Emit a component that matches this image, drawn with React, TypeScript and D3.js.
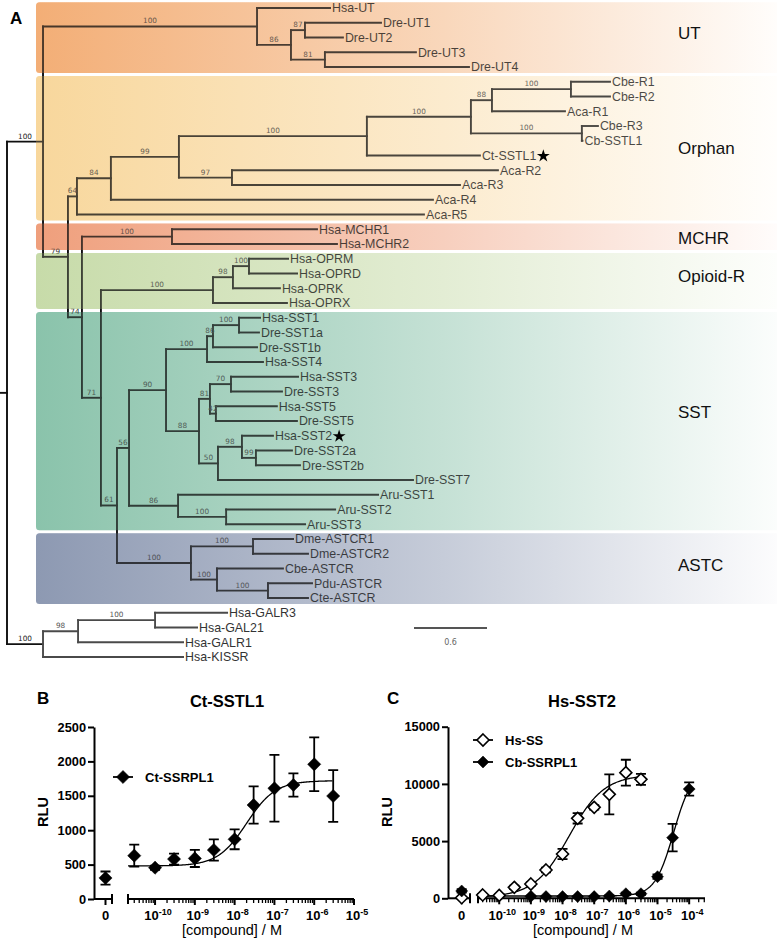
import React, { useEffect, useRef } from "react";
import * as d3 from "d3";

// ======================= PANEL A : tree data =======================
type TNode = { name?: string; bs?: number | null; len: number; children?: TNode[] };
const L = (name: string, len: number): TNode => ({ name, len });
const N = (bs: number | null, len: number, ...children: TNode[]): TNode => ({ bs, len, children });

const utClade = N(100, 1.759,
  L("Hsa-UT", 0.6),
  N(86, 0.279,
    N(87, 0.115, L("Dre-UT1", 0.625), L("Dre-UT2", 0.312)),
    N(81, 0.279, L("Dre-UT3", 0.748), L("Dre-UT4", 1.184))));

const orphanClade = N(64, 0.074,
  N(84, 0.279,
    N(99, 0.559,
      N(100, 1.545,
        N(100, 0.855,
          N(88, 0.173, N(100, 0.649, L("Cbe-R1", 0.321), L("Cbe-R2", 0.321)), L("Aca-R1", 0.6)),
          N(100, 0.912, L("Cbe-R3", 0.132), L("Cb-SSTL1", 0.005))),
        L("Ct-SSTL1", 0.929)),
      N(97, 0.436, L("Aca-R2", 2.186), L("Aca-R3", 1.874))),
    L("Aca-R4", 2.647)),
  L("Aca-R5", 2.852));

const mchrClade = N(100, 0.74, L("Hsa-MCHR1", 1.192), L("Hsa-MCHR2", 1.356));

const opioidClade = N(100, 0.921,
  N(98, 0.164, N(100, 0.132, L("Hsa-OPRM", 0.321), L("Hsa-OPRD", 0.395)), L("Hsa-OPRK", 0.386)),
  L("Hsa-OPRX", 0.608));

const sstClade = N(56, 0.099,
  N(90, 0.304,
    N(100, 0.337,
      N(86, 0.049, N(100, 0.214, L("Hsa-SST1", 0.173), L("Dre-SST1a", 0.164)), L("Dre-SST1b", 0.362)),
      L("Hsa-SST4", 0.46)),
    N(88, 0.271,
      N(81, 0.09,
        N(70, 0.173, L("Hsa-SST3", 0.551), L("Dre-SST3", 0.419)),
        N(42, 0.049, L("Hsa-SST5", 0.501), L("Dre-SST5", 0.666))),
      N(50, 0.156,
        N(98, 0.197, L("Hsa-SST2", 0.255), N(99, 0.115, L("Dre-SST2a", 0.296), L("Dre-SST2b", 0.362))),
        L("Dre-SST7", 1.603)))),
  N(86, 0.403, L("Aru-SST1", 1.644), N(100, 0.395, L("Aru-SST2", 0.896), L("Aru-SST3", 0.649))));

const astcClade = N(100, 0.608,
  N(100, 0.51, L("Dme-ASTCR1", 0.329), L("Dme-ASTCR2", 0.452)),
  N(100, 0.214, L("Cbe-ASTCR", 0.542), N(100, 0.419, L("Pdu-ASTCR", 0.362), L("Cte-ASTCR", 0.329))));

const outgroupClade = N(100, 0.296,
  N(98, 0.288, N(100, 0.633, L("Hsa-GALR3", 0.592), L("Hsa-GAL21", 0.345)), L("Hsa-GALR1", 0.863)),
  L("Hsa-KISSR", 1.151));

const treeData = N(null, 0,
  N(100, 0.296, utClade,
    N(79, 0.205, orphanClade,
      N(74, 0.115, mchrClade,
        N(71, 0.156, opioidClade,
          N(61, 0.132, sstClade, astcClade))))),
  outgroupClade);

const cladeNames = ["UT", "Orphan", "MCHR", "Opioid-R", "SST", "ASTC"];
const cladeFirstLeaf = ["Hsa-UT", "Cbe-R1", "Hsa-MCHR1", "Hsa-OPRM", "Hsa-SST1", "Dme-ASTCR1"];
const cladeLastLeaf = ["Dre-UT4", "Aca-R5", "Hsa-MCHR2", "Hsa-OPRX", "Aru-SST3", "Cte-ASTCR"];
const cladeColors = ["#f3ae76", "#f8d79c", "#ef9f7c", "#c7dba9", "#8ac3ab", "#8d99b2"];
const starredLeaves = ["Ct-SSTL1", "Hsa-SST2"];
const scaleBarLength = 0.6;

// ======================= PANEL B data =======================
const ctConc = [3e-11, 1e-10, 3e-10, 1e-9, 3e-9, 1e-8, 3e-8, 1e-7, 3e-7, 1e-6, 3e-6];
const ctMean = [630, 455, 580, 590, 712, 868, 1366, 1609, 1657, 1958, 1497];
const ctSD = [160, 30, 80, 125, 155, 145, 270, 485, 170, 390, 375];
const ctZero = [305, 95];
const ctFit = { bottom: 480, top: 1720, logEC50: -7.7, hill: 1.2 };

// ======================= PANEL C data =======================
const hsConc = [3e-11, 1e-10, 3e-10, 1e-9, 3e-9, 1e-8, 3e-8, 1e-7, 3e-7, 1e-6, 3e-6];
const hsMean = [290, 250, 960, 1250, 2475, 3870, 6990, 7950, 9090, 10980, 10400];
const hsSD = [100, 100, 150, 150, 200, 450, 450, 200, 1750, 1130, 480];
const hsZero = [50, 0];
const hsFit = { bottom: 100, top: 10800, logEC50: -7.79, hill: 0.79 };

const cbConc = [1e-9, 3e-9, 1e-8, 3e-8, 1e-7, 3e-7, 1e-6, 3e-6, 1e-5, 3e-5, 1e-4];
const cbMean = [175, 150, 150, 150, 150, 200, 400, 400, 1890, 5300, 9550];
const cbSD = [50, 50, 50, 50, 50, 50, 100, 100, 200, 1200, 580];
const cbZero = [640, 150];
const cbFit = { bottom: 200, top: 11300, logEC50: -4.49, hill: 1.47 };

const FONT = "'Liberation Sans', Arial, Helvetica, sans-serif";
const SMALLFONT = "'DejaVu Sans', Verdana, sans-serif";

function model(p: { bottom: number; top: number; logEC50: number; hill: number }, lx: number) {
  return p.bottom + (p.top - p.bottom) / (1 + Math.pow(10, (p.logEC50 - lx) * p.hill));
}

function drawTree(svg: any) {
  const x = d3.scaleLinear().domain([0, scaleBarLength]).range([7, 80]);
  const root: any = d3.hierarchy(treeData, (d: TNode) => d.children);
  root.eachBefore((n: any) => { n.cum = n.parent ? n.parent.cum + n.data.len : 0; });
  const leaves = root.leaves();
  const yLeaf = d3.scaleLinear().domain([0, leaves.length - 1]).range([8, 657]);
  leaves.forEach((l: any, i: number) => { l.yy = yLeaf(i); });
  root.eachAfter((n: any) => {
    if (n.children) n.yy = (n.children[0].yy + n.children[n.children.length - 1].yy) / 2;
  });
  const outNode = root.children[1];
  const outSet = new Set(outNode.descendants());
  const half = (yLeaf(1) - yLeaf(0)) / 2;
  const byName = new Map(leaves.map((l: any) => [l.data.name, l]));

  const boxes = cladeNames.map((name, i) => {
    const f: any = byName.get(cladeFirstLeaf[i]);
    const l: any = byName.get(cladeLastLeaf[i]);
    return { name, color: cladeColors[i], y0: f.yy - half + 1.5, y1: l.yy + half - 1.5 };
  });
  const boxX0 = 36, boxX1 = 777;
  const defs = svg.append("defs");
  boxes.forEach((b, i) => {
    const g = defs.append("linearGradient").attr("id", "cg" + i)
      .attr("gradientUnits", "userSpaceOnUse").attr("x1", boxX0).attr("x2", boxX1).attr("y1", 0).attr("y2", 0);
    g.append("stop").attr("offset", 0).attr("stop-color", b.color);
    g.append("stop").attr("offset", 0.55).attr("stop-color", d3.interpolateRgb(b.color, "#fff")(0.5));
    g.append("stop").attr("offset", 1).attr("stop-color", d3.interpolateRgb(b.color, "#fff")(0.97));
  });
  const drawBoxes = (op: number) =>
    svg.append("g").selectAll("rect").data(boxes).join("rect")
      .attr("x", boxX0).attr("y", (d: any) => d.y0).attr("width", boxX1 - boxX0 + 6)
      .attr("height", (d: any) => d.y1 - d.y0).attr("rx", 3.5)
      .attr("fill", (_: any, i: number) => `url(#cg${i})`).attr("fill-opacity", op);
  drawBoxes(1);

  const lineColor = (n: any) => (outSet.has(n) && n !== outNode ? "#4a4a4a" : "#0e0e0e");
  const lines = svg.append("g").attr("fill", "none").attr("stroke-width", 1.9).attr("stroke-linecap", "square");
  lines.append("path").attr("d", `M0,${root.yy}H${x(0)}`).attr("stroke", "#111");
  root.descendants().forEach((n: any) => {
    if (n.parent) {
      lines.append("path").attr("d", `M${x(n.parent.cum)},${n.yy}H${x(n.cum)}`)
        .attr("stroke", n === outNode ? "#111" : lineColor(n));
    }
    if (n.children) {
      lines.append("path")
        .attr("d", `M${x(n.cum)},${n.children[0].yy}V${n.children[n.children.length - 1].yy}`)
        .attr("stroke", n === outNode ? "#4a4a4a" : lineColor(n));
    }
  });

  // bootstrap values
  const bsG = svg.append("g").attr("font-family", SMALLFONT).attr("font-size", 7.3).attr("text-anchor", "middle");
  root.descendants().forEach((n: any) => {
    if (n.parent && n.data.bs != null) {
      bsG.append("text").attr("x", (x(n.parent.cum) + x(n.cum)) / 2).attr("y", n.yy - 3)
        .attr("fill", n.parent === root ? "#222" : outSet.has(n) ? "#555" : "#333")
        .text(n.data.bs);
    }
  });

  // tip labels
  const tipG = svg.append("g").attr("font-family", FONT).attr("font-size", 12.4);
  const tipText = new Map<string, any>();
  leaves.forEach((l: any) => {
    const t = tipG.append("text").attr("x", x(l.cum) + 2).attr("y", l.yy).attr("dy", "0.36em")
      .attr("fill", outSet.has(l) ? "#333" : "#0e0e0e").text(l.data.name);
    tipText.set(l.data.name, t);
  });

  // tint overlay
  drawBoxes(0.25);

  // clade labels
  const cladeDy = [-4, 0, 1, -5, -9, -3];
  svg.append("g").attr("font-family", FONT).attr("font-size", 17).attr("fill", "#111")
    .selectAll("text").data(boxes).join("text")
    .attr("x", 678).attr("y", (d: any, i: number) => (d.y0 + d.y1) / 2 + cladeDy[i]).attr("dy", "0.35em")
    .text((d: any) => d.name);

  // stars
  starredLeaves.forEach((name) => {
    const t = tipText.get(name);
    const l: any = byName.get(name);
    const w = t.node().getComputedTextLength();
    svg.append("path").attr("d", d3.symbol(d3.symbolStar, 52)())
      .attr("transform", `translate(${x(l.cum) + 2 + w + 7},${l.yy + 0.5})`).attr("fill", "#000");
  });

  svg.append("text").attr("x", 10).attr("y", 24).attr("font-family", FONT).attr("font-weight", "bold")
    .attr("font-size", 17).text("A");

  // scale bar
  const sbx = 414;
  svg.append("path").attr("d", `M${sbx},628H${sbx + x(scaleBarLength) - x(0)}`).attr("stroke", "#555").attr("stroke-width", 2);
  svg.append("text").attr("x", sbx + (x(scaleBarLength) - x(0)) / 2).attr("y", 645).attr("text-anchor", "middle")
    .attr("font-family", SMALLFONT).attr("font-size", 8).attr("fill", "#666").text(String(scaleBarLength));
}

type Series = { name: string; open: boolean; conc: number[]; mean: number[]; sd: number[]; zero: number[]; fit: any; fitEnd: number };

function drawDose(svg: any, Lo: any, series: Series[]) {
  const g = svg.append("g").attr("font-family", FONT);
  const y = d3.scaleLinear().domain([0, Lo.yMax]).range([Lo.yBottom, Lo.yTop]);
  const xl = d3.scaleLog().domain([Math.pow(10, Lo.logMin), Math.pow(10, Lo.logMax)]).range([Lo.logStart, Lo.logEnd]);

  g.append("text").attr("x", Lo.letterX).attr("y", 704).attr("font-weight", "bold").attr("font-size", 17).text(Lo.letter);
  g.append("text").attr("x", Lo.titleX).attr("y", 707).attr("text-anchor", "middle").attr("font-weight", "bold")
    .attr("font-size", 16.5).text(Lo.title);

  const ya = g.append("g").attr("transform", `translate(${Lo.axisX},0)`)
    .call(d3.axisLeft(y).tickValues(d3.range(0, Lo.yMax + 1, Lo.yStep)).tickSize(6).tickSizeOuter(0).tickPadding(2)
      .tickFormat(d3.format("d")));
  ya.attr("font-family", FONT).attr("font-size", 12.8).attr("font-weight", "bold");
  ya.selectAll("path,line").attr("stroke", "#000").attr("stroke-width", 2);
  ya.selectAll("text").attr("fill", "#000");

  g.append("text").attr("transform", `translate(${Lo.ylabX},812) rotate(-90)`).attr("text-anchor", "middle")
    .attr("dy", "0.35em").attr("font-weight", "bold").attr("font-size", 14.5).text("RLU");

  const ax = g.append("g").attr("stroke", "#000").attr("fill", "none");
  const yb = Lo.yBottom;
  ax.append("path").attr("d", `M${Lo.axisX},${yb}H${Lo.zeroEnd}`).attr("stroke-width", 2);
  ax.append("path").attr("d", `M${Lo.zeroX},${yb}v6`).attr("stroke-width", 2);
  ax.append("path").attr("d", `M${Lo.zeroEnd},${yb - 5}v10`).attr("stroke-width", 2);
  ax.append("path").attr("d", `M${Lo.logStart},${yb - 5}v10`).attr("stroke-width", 2);
  ax.append("path").attr("d", `M${Lo.logStart},${yb}H${Lo.logEnd}`).attr("stroke-width", 2);
  for (let d = Math.floor(Lo.logMin); d <= Math.ceil(Lo.logMax); d++) {
    for (let m = 1; m <= 9; m++) {
      const lv = d + Math.log10(m);
      if (lv < Lo.logMin - 1e-9 || lv > Lo.logMax + 1e-9) continue;
      const px = xl(Math.pow(10, lv));
      ax.append("path").attr("d", `M${px},${yb}v${m === 1 ? 6 : 4}`).attr("stroke-width", m === 1 ? 2 : 1.3);
    }
  }
  const tl = g.append("g").attr("font-weight", "bold").attr("font-size", 13).attr("text-anchor", "middle");
  tl.append("text").attr("x", Lo.zeroX).attr("y", 920).text("0");
  Lo.decades.forEach((d: number) => {
    const t = tl.append("text").attr("x", xl(Math.pow(10, d)) + 3).attr("y", 920);
    t.append("tspan").text("10");
    t.append("tspan").attr("dy", -5.5).attr("font-size", 9).text(String(d));
  });
  g.append("text").attr("x", Lo.xtitleX).attr("y", 935).attr("text-anchor", "middle").attr("font-size", 14.5)
    .text("[compound] / M");

  const diamond = (cx: number, cy: number, r: number) => `M${cx},${cy - r}L${cx + r},${cy}L${cx},${cy + r}L${cx - r},${cy}Z`;

  series.forEach((s) => {
    const lx = d3.range(Lo.logMin, s.fitEnd + 0.0001, 0.02);
    g.append("path").attr("d", d3.line()(lx.map((v) => [xl(Math.pow(10, v)), y(model(s.fit, v))]) as any))
      .attr("fill", "none").attr("stroke", "#000").attr("stroke-width", 1.3);
  });
  series.forEach((s) => {
    const pts = [{ px: Lo.zeroX, m: s.zero[0], sd: s.zero[1] }].concat(
      s.conc.map((c, i) => ({ px: xl(c), m: s.mean[i], sd: s.sd[i] })));
    const eb = g.append("g").attr("stroke", "#000").attr("stroke-width", 1.8).attr("fill", "none");
    pts.forEach((p) => {
      if (p.sd > 0) {
        const y1 = y(p.m + p.sd), y2 = y(Math.max(0, p.m - p.sd));
        eb.append("path").attr("d", `M${p.px},${y1}V${y2}M${p.px - 5},${y1}H${p.px + 5}M${p.px - 5},${y2}H${p.px + 5}`);
      }
    });
    pts.forEach((p) => {
      g.append("path").attr("d", diamond(p.px, y(p.m), Lo.r))
        .attr("fill", s.open ? "#fff" : "#000").attr("stroke", "#000").attr("stroke-width", s.open ? 1.6 : 0.5);
    });
  });

  series.forEach((s, i) => {
    const ly = Lo.legendY + i * Lo.legendDy;
    g.append("path").attr("d", `M${Lo.legendX},${ly}H${Lo.legendX + 20}`).attr("stroke", "#000").attr("stroke-width", 1.8);
    g.append("path").attr("d", diamond(Lo.legendX + 10, ly, Lo.r))
      .attr("fill", s.open ? "#fff" : "#000").attr("stroke", "#000").attr("stroke-width", s.open ? 1.6 : 0.5);
    g.append("text").attr("x", Lo.legendX + 32).attr("y", ly).attr("dy", "0.36em").attr("font-weight", "bold")
      .attr("font-size", 13).text(s.name);
  });
}

const panelB = {
  letter: "B", letterX: 37, title: "Ct-SSTL1", titleX: 227, axisX: 94, zeroX: 105.5, zeroEnd: 112,
  logStart: 128, logEnd: 354, logMin: -10.68, logMax: -5, decades: [-10, -9, -8, -7, -6, -5],
  yBottom: 899, yTop: 727, yMax: 2500, yStep: 500, ylabX: 43, xtitleX: 232, legendX: 113, legendY: 777,
  legendDy: 22, r: 6.6,
};
const panelC = {
  letter: "C", letterX: 387, title: "Hs-SST2", titleX: 582, axisX: 448, zeroX: 461.7, zeroEnd: 470,
  logStart: 478, logEnd: 705, logMin: -10.67, logMax: -3.5, decades: [-10, -9, -8, -7, -6, -5, -4],
  yBottom: 898.3, yTop: 726.7, yMax: 15000, yStep: 5000, ylabX: 387, xtitleX: 583, legendX: 473, legendY: 740,
  legendDy: 22, r: 6,
};

export default function App() {
  const ref = useRef<SVGSVGElement>(null);
  useEffect(() => {
    const svg = d3.select(ref.current);
    svg.selectAll("*").remove();
    drawTree(svg);
    drawDose(svg, panelB, [
      { name: "Ct-SSRPL1", open: false, conc: ctConc, mean: ctMean, sd: ctSD, zero: ctZero, fit: ctFit, fitEnd: Math.log10(3e-6) },
    ]);
    drawDose(svg, panelC, [
      { name: "Hs-SS", open: true, conc: hsConc, mean: hsMean, sd: hsSD, zero: hsZero, fit: hsFit, fitEnd: Math.log10(3e-6) },
      { name: "Cb-SSRPL1", open: false, conc: cbConc, mean: cbMean, sd: cbSD, zero: cbZero, fit: cbFit, fitEnd: -4 },
    ]);
  }, []);
  return (
    <div style={{ position: "absolute", left: 0, top: 0 }}>
      <style>{"body{margin:0}"}</style>
      <svg ref={ref} width={777} height={943} style={{ display: "block", background: "#fff" }} />
    </div>
  );
}
